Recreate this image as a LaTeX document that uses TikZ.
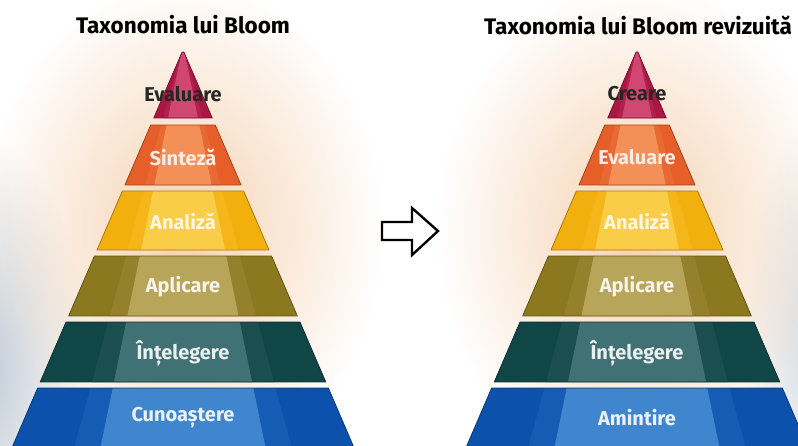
\documentclass[tikz,border=0pt]{standalone}
\usepackage{fontspec}
\setmainfont{Fira Sans}
\usepackage{xcolor}
\usetikzlibrary{positioning, fadings}

\definecolor{crimson}{HTML}{AA1744}
\definecolor{crimsonlt}{HTML}{D14774}
\definecolor{orng}{HTML}{E75F28}
\definecolor{ornglt}{HTML}{F39058}
\definecolor{yell}{HTML}{F2B00E}
\definecolor{yelllt}{HTML}{F9CD48}
\definecolor{olive}{HTML}{8C781F}
\definecolor{olivelt}{HTML}{B7A65A}
\definecolor{teal}{HTML}{114646}
\definecolor{teallt}{HTML}{407275}
\definecolor{blu}{HTML}{0C52AD}
\definecolor{blult}{HTML}{4086CF}
\definecolor{glow}{HTML}{F6D2B0}
\definecolor{haze}{HTML}{BFCAD6}

\tikzfading[name=softglow, inner color=transparent!0, outer color=transparent!100]

% one slice of a pyramid: center x, top y, bottom y, colour, light colour
\newcommand{\slice}[5]{%
  \pgfmathsetmacro{\wt}{0.43*(#2-50)}%
  \pgfmathsetmacro{\wb}{0.43*(#3-50)}%
  \pgfmathsetmacro{\mt}{0.27*(#2-45)}%
  \pgfmathsetmacro{\mb}{0.27*(#3-45)}%
  \pgfmathsetmacro{\bt}{0.205*(#2-45)}%
  \pgfmathsetmacro{\bb}{0.205*(#3-45)}%
  \begin{scope}
    \clip (#1-\wt,#2) -- (#1+\wt,#2) -- (#1+\wb,#3) -- (#1-\wb,#3) -- cycle;
    \fill[#4] (#1-\wb,#2) rectangle (#1+\wb,#3);
    \fill[#4!80!#5] (#1-\mt,#2) -- (#1+\mt,#2) -- (#1+\mb,#3) -- (#1-\mb,#3) -- cycle;
    \fill[#5] (#1-\bt,#2) -- (#1+\bt,#2) -- (#1+\bb,#3) -- (#1-\bb,#3) -- cycle;
  \end{scope}
  \draw[#4!70!black, line width=0.8pt, line join=round]
    (#1-\wt,#2) -- (#1+\wt,#2) -- (#1+\wb,#3) -- (#1-\wb,#3) -- cycle;
}

\begin{document}
\begin{tikzpicture}[x=1pt,y=-1pt,
    title/.style={font=\fontsize{22.5}{24}\selectfont\bfseries, text=black},
    lbl/.style={font=\fontsize{20}{22}\selectfont\bfseries},
    toplbl/.style={lbl, text=black!85}]

    \useasboundingbox (0,0) rectangle (798,445);
    \clip (0,0) rectangle (798,445);

    % background
    \fill[white] (0,0) rectangle (798,445);
    \fill[haze, path fading=softglow] (-20,370) ellipse (110 and 230);
    \fill[haze!70, path fading=softglow] (820,340) ellipse (80 and 220);
    \fill[glow, path fading=softglow] (183,230) ellipse (200 and 250);
    \fill[glow, path fading=softglow] (637,230) ellipse (200 and 250);

    % both pyramids
    \foreach \cx in {183,637} {
        \slice{\cx}{52}{118}{crimson}{crimsonlt}
        \slice{\cx}{125}{185}{orng}{ornglt}
        \slice{\cx}{191}{250}{yell}{yelllt}
        \slice{\cx}{256}{316}{olive}{olivelt}
        \slice{\cx}{322}{382}{teal}{teallt}
        \slice{\cx}{388}{470}{blu}{blult}
    }

    \node[title] (t1) at (183,25) {Taxonomia lui Bloom};
    \node[title] (t2) at (638,25) {Taxonomia lui Bloom revizuită};

    % left pyramid
    \node[toplbl] (l1) at (183,94) {Evaluare};
    \node[lbl, text=orng!12] (l2) at (183,157) {Sinteză};
    \node[lbl, text=yell!12] (l3) at (183,221) {Analiză};
    \node[lbl, text=olive!8] (l4) at (183,287) {Aplicare};
    \node[lbl, text=teal!8] (l5) at (183,353) {Înțelegere};
    \node[lbl, text=blu!8] (l6) at (183,418) {Cunoaștere};

    % right pyramid
    \node[toplbl] (r1) at (637,94) {Creare};
    \node[lbl, text=orng!12] (r2) at (637,157) {Evaluare};
    \node[lbl, text=yell!12] (r3) at (637,221) {Analiză};
    \node[lbl, text=olive!8] (r4) at (637,287) {Aplicare};
    \node[lbl, text=teal!8] (r5) at (637,353) {Înțelegere};
    \node[lbl, text=blu!8] (r6) at (637,418) {Amintire};

    % hollow arrow
    \draw[line width=2.4pt, fill=white, line join=miter]
        (382,222) -- (412,222) -- (412,208) -- (438,231)
        -- (412,255) -- (412,240) -- (382,240) -- cycle;

\end{tikzpicture}
\end{document}
